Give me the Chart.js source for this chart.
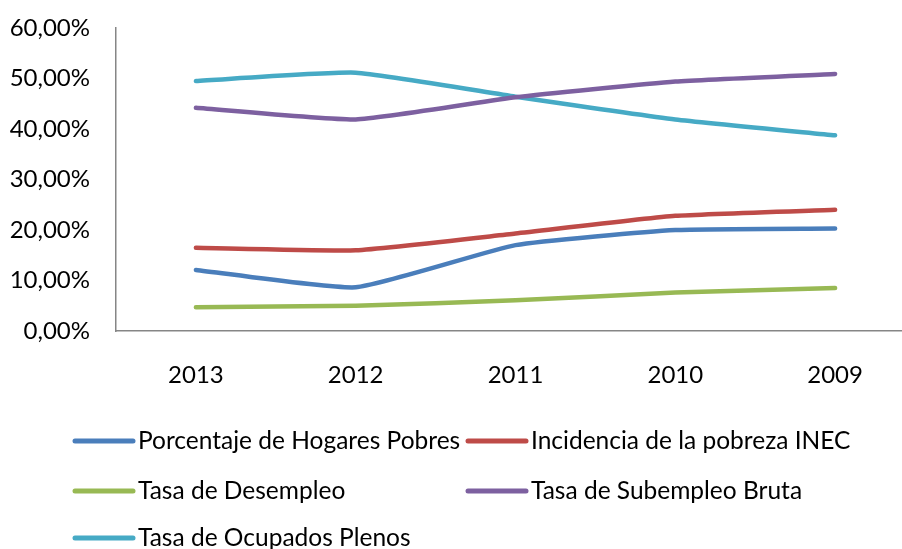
<!DOCTYPE html>
<html>
<head>
<meta charset="utf-8">
<script src="https://cdn.jsdelivr.net/npm/chart.js@4"></script>
<style>
html,body{margin:0;padding:0;overflow:hidden;background:#fff;width:902px;height:549px;}
#wrap{width:920px;height:549px;position:relative;}
</style>
</head>
<body>
<div id="wrap"><canvas id="c" width="920" height="549"></canvas></div>
<script>
const categories = ["2013","2012","2011","2010","2009"];
const hogaresPobres = [12.1, 8.65, 17.0, 20.0, 20.3];
const incidenciaPobreza = [16.5, 16.0, 19.3, 22.8, 24.0];
const tasaDesempleo = [4.7, 5.0, 6.1, 7.6, 8.5];
const tasaSubempleo = [44.2, 41.9, 46.3, 49.4, 50.9];
const tasaOcupados = [49.5, 51.15, 46.4, 41.9, 38.75];
const seriesNames = ["Porcentaje de Hogares Pobres","Incidencia de la pobreza INEC","Tasa de Desempleo","Tasa de Subempleo Bruta","Tasa de Ocupados Plenos"];
const seriesColors = ["#4A7EBB","#BE4B48","#98B954","#7D60A0","#46AAC5"];
const yTicks = [0,10,20,30,40,50,60];

const FONT = "Lato";
const seriesData = [hogaresPobres, incidenciaPobreza, tasaDesempleo, tasaSubempleo, tasaOcupados];

const legendPlugin = {
  id: 'gridLegend',
  afterDraw(chart) {
    const ctx = chart.ctx;
    const colX = [73, 466];
    const rowY = [441, 491, 538];
    ctx.save();
    ctx.font = "24.5px " + FONT;
    ctx.textBaseline = "middle";
    ctx.textAlign = "left";
    chart.data.datasets.forEach((ds, i) => {
      const x = colX[i % 2], y = rowY[Math.floor(i / 2)];
      ctx.strokeStyle = ds.borderColor;
      ctx.lineWidth = 5;
      ctx.lineCap = "round";
      ctx.beginPath();
      ctx.moveTo(x + 2, y);
      ctx.lineTo(x + 60, y);
      ctx.stroke();
      ctx.fillStyle = "#000";
      ctx.fillText(ds.label, x + 65, y);
    });
    ctx.restore();
  }
};

new Chart(document.getElementById('c'), {
  type: 'line',
  data: {
    labels: categories,
    datasets: seriesData.map((d, i) => ({
      label: seriesNames[i],
      data: d,
      borderColor: seriesColors[i],
      backgroundColor: seriesColors[i],
      borderWidth: 4.5,
      borderCapStyle: 'round',
      borderJoinStyle: 'round',
      pointRadius: 0,
      tension: 0.15,
      fill: false
    }))
  },
  options: {
    responsive: false,
    animation: false,
    devicePixelRatio: 1,
    layout: { padding: { top: 28, right: 5, left: 0, bottom: 0 } },
    plugins: { legend: { display: false }, tooltip: { enabled: false } },
    scales: {
      x: {
        offset: true,
        grid: { display: false, drawTicks: false },
        border: { display: true, color: '#868686', width: 1.5 },
        ticks: { color: '#000', font: { family: FONT, size: 24 }, padding: 30, maxRotation: 0 },
        afterFit(scale) { scale.height = 218; }
      },
      y: {
        min: 0, max: 60,
        afterBuildTicks(scale) { scale.ticks = yTicks.map(v => ({ value: v })); },
        grid: { display: false, drawTicks: false },
        border: { display: true, color: '#868686', width: 1.5 },
        ticks: {
          color: '#000', font: { family: FONT, size: 24 }, padding: 26,
          callback: v => v.toFixed(2).replace('.', ',') + '%'
        },
        afterFit(scale) { scale.width = 116; scale.paddingTop = 0; scale.paddingBottom = 0; }
      }
    }
  },
  plugins: [legendPlugin]
});
</script>
</body>
</html>
